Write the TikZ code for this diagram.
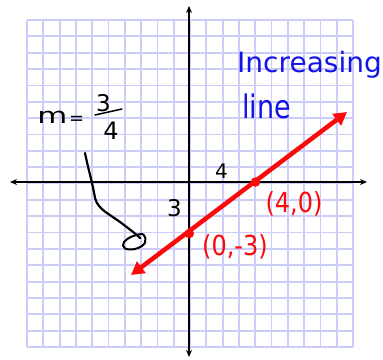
\documentclass[tikz,border=0pt]{standalone}
\usepackage{fontspec}
\setmainfont{DejaVu Sans}
\usetikzlibrary{arrows.meta}
\definecolor{gridc}{RGB}{205,205,250}
\definecolor{redc}{RGB}{250,10,10}
\definecolor{bluec}{RGB}{20,20,230}
\tikzset{
  axisline/.style={line width=2pt,black,{Stealth[length=7pt,width=6pt]}-{Stealth[length=7pt,width=6pt]}},
  redline/.style={line width=4.5pt,redc,{Triangle[length=13pt,width=14pt]}-{Triangle[length=13pt,width=14pt]}},
  reddot/.style={circle,fill=redc,inner sep=0pt,minimum size=9.5pt},
  handblue/.style={bluec,inner sep=0pt,font=\fontsize{28}{28}\selectfont},
  handblack/.style={black,inner sep=0pt,font=\fontsize{20}{20}\selectfont},
  handred/.style={redc,inner sep=0pt,font=\fontsize{24}{24}\selectfont,yscale=1.15}
}
\begin{document}
\begin{tikzpicture}[x=1pt,y=-1pt]
\useasboundingbox[fill=white] (0,0) rectangle (383,359);
% grid
\foreach \i in {0,...,20}{
  \draw[gridc,line width=1.8pt] ({27+\i*16.3},20) -- ({27+\i*16.3},347);
  \draw[gridc,line width=1.8pt] (27,{20+\i*16.35}) -- (353,{20+\i*16.35});
}
% axes
\coordinate (xl) at (10,182);
\coordinate (xr) at (367,182);
\coordinate (yt) at (189,6);
\coordinate (yb) at (189,357);
\draw[axisline] (xl) -- (xr);
\draw[axisline] (yb) -- (yt);
% red line
\coordinate (rl) at (131,275);
\coordinate (ru) at (347,112);
\draw[redline] (rl) -- (ru);
\node[reddot] (p40) at (255.5,182) {};
\node[reddot] (p03) at (189.3,233.5) {};
% labels
\node[handblue,anchor=base west] (inc) at (237,72) {Increasing};
\node[handblue,anchor=base west,font=\fontsize{27}{27}\selectfont,yscale=1.2] (lin) at (242,118) {line};
\node[handblack,font=\fontsize{20}{20}\selectfont] (four) at (221.5,171) {4};
\node[handblack,font=\fontsize{23}{23}\selectfont] (three) at (174.5,208.5) {3};
\node[handred,anchor=center] (l40) at (294,204) {(4,0)};
\node[handred,anchor=center] (l03) at (235,247) {(0,-3)};
% slope
\node[handblack,anchor=base west,font=\fontsize{22}{22}\selectfont,xscale=1.4] (m) at (37,123) {m};
\node[handblack,anchor=base west,font=\fontsize{18}{18}\selectfont] (eq) at (69,124) {=};
\node[handblack,font=\fontsize{23}{23}\selectfont] (num) at (103.5,103.5) {3};
\node[handblack,font=\fontsize{24}{24}\selectfont] (den) at (111,131) {4};
\draw[line width=1.5pt,line cap=round] (95,115) -- (122,109);
% squiggle pointer
\draw[line width=2.2pt,line cap=round,line join=round]
  (85,153) .. controls (88,168) and (93,185) .. (95,198)
  .. controls (98,210) and (110,214) .. (124,225)
  .. controls (132,231) and (137,235) .. (140,238);
\draw[line width=2pt] (143,234) .. controls (148,240) and (146,246) .. (135,249)
  .. controls (125,251) and (121,247) .. (124,242)
  .. controls (127,238) and (136,234) .. (143,234);
\end{tikzpicture}
\end{document}
